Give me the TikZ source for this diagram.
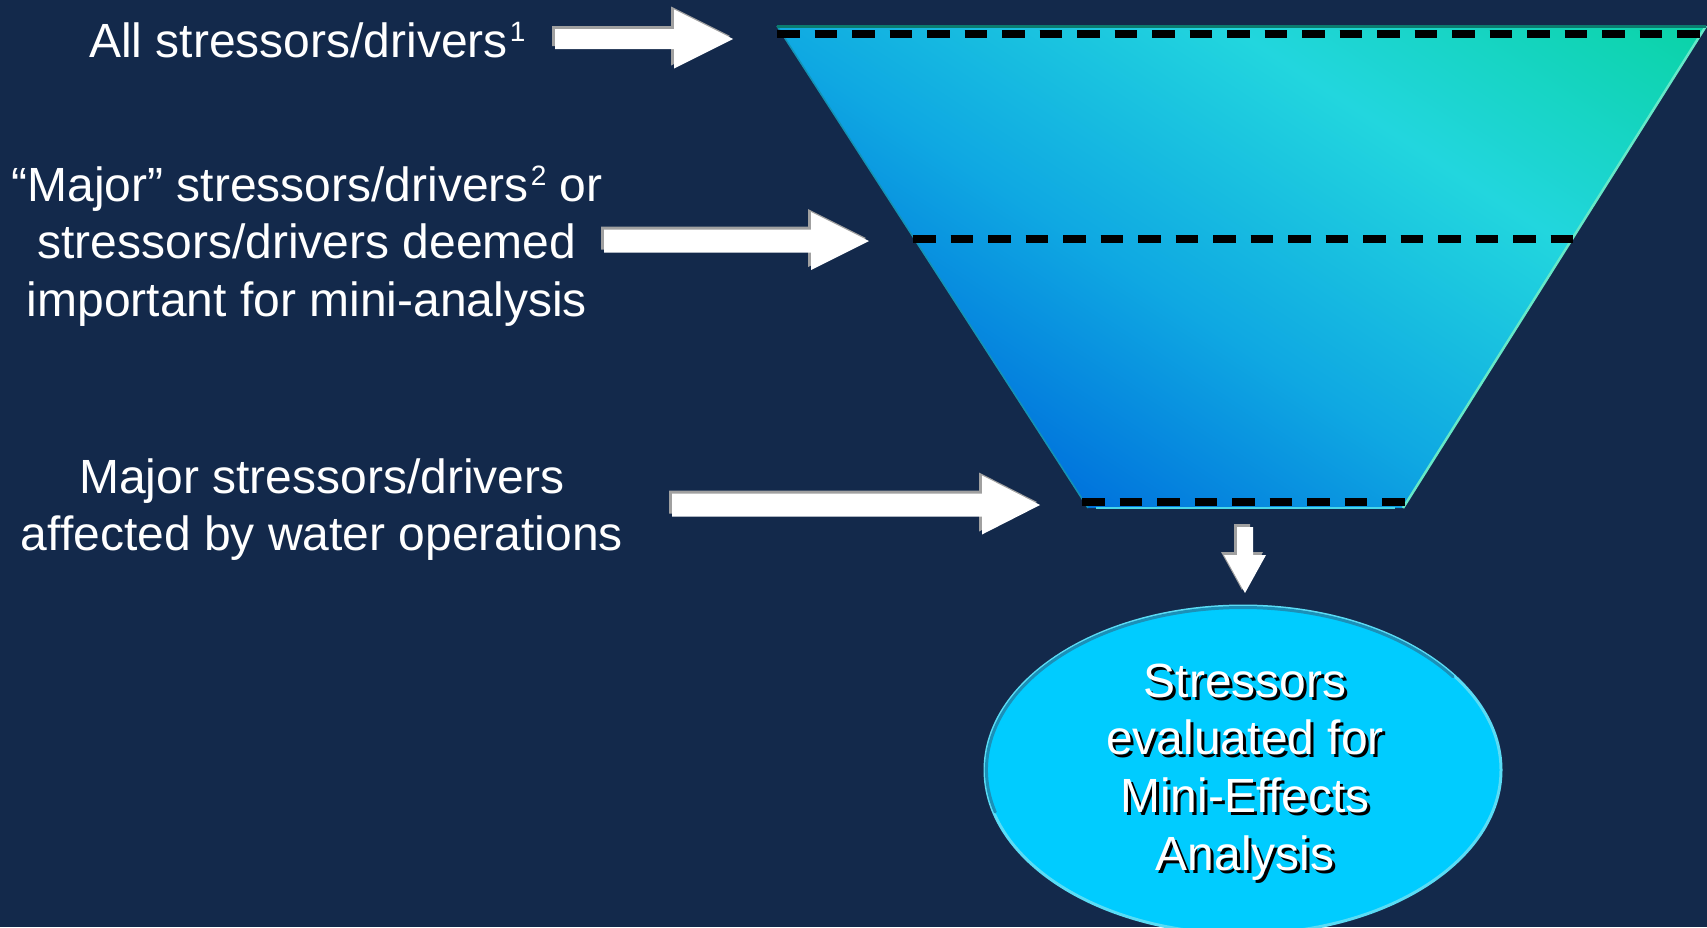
\documentclass[tikz,border=0pt]{standalone}
\usepackage{fontspec}
\setmainfont{Liberation Sans}
\usetikzlibrary{shapes.geometric}

\definecolor{navy}{HTML}{13294B}
\definecolor{fblue}{HTML}{0072DC}
\definecolor{fmid}{HTML}{0FA8E2}
\definecolor{fcyan}{HTML}{22D6DE}
\definecolor{fgreen}{HTML}{0AD3A6}
\definecolor{ftopc}{HTML}{0B7C6E}
\definecolor{fleftc}{HTML}{1493B4}
\definecolor{frightc}{HTML}{66E8C8}
\definecolor{fbottomc}{HTML}{48D6E8}
\definecolor{dashgray}{HTML}{666666}
\definecolor{arrowedge}{HTML}{A0A0A0}
\definecolor{goalfill}{HTML}{00CCFF}
\definecolor{goaldark}{HTML}{1B90B8}
\definecolor{goallight}{HTML}{5ADCF5}

% blue -> cyan -> green ramp across the funnel (25bp..75bp spans the path)
\pgfdeclarehorizontalshading{funnelshade}{100bp}{
  color(0bp)=(fblue); color(25bp)=(fblue); color(40bp)=(fmid);
  color(57.5bp)=(fcyan); color(75bp)=(fgreen); color(100bp)=(fgreen)}

% footnote mark set as a raised smaller digit
\newcommand{\fnmark}[1]{\kern2pt\raisebox{16pt}{\fontsize{28}{28}\selectfont #1}}
\newcommand{\goalwords}{\begin{tabular}[t]{@{}c@{}}Stressors\\evaluated for\\Mini-Effects\\Analysis\end{tabular}}

\tikzset{
  txt/.style={text=white, inner sep=0pt, font=\fontsize{48}{57.7}\selectfont},
  dashshadow/.style={draw=dashgray, line width=7.5pt, dash pattern=on 22.5pt off 15pt, shift={(2.5,2.5)}},
  dashline/.style={draw=black, line width=7.5pt, dash pattern=on 22.5pt off 15pt},
  % block arrow with its tip at the origin, pointing along +x
  % #1 total length, #2 half shaft width, #3 half head width, #4 head length
  pics/blockarrow/.style n args={4}{code={
    \path[pic actions] (-#1,-#2) -- (-#4,-#2) -- (-#4,-#3) -- (0,0)
      -- (-#4,#3) -- (-#4,#2) -- (-#1,#2) -- cycle;
  }},
}

\begin{document}
\begin{tikzpicture}[x=1pt, y=-1pt]
  \fill[navy] (0,0) rectangle (1707,927);
  \useasboundingbox (0,0) rectangle (1707,927);
  \clip (0,0) rectangle (1707,927);

  % funnel corners
  \coordinate (ftl) at (777,26);
  \coordinate (ftr) at (1706,26);
  \coordinate (fbr) at (1403,508);
  \coordinate (fbl) at (1088,508);

  \begin{scope}
    \clip (ftl) -- (ftr) -- (fbr) -- (fbl) -- cycle;
    \begin{scope}[transform canvas={shift={(1240,166)}, rotate=57}]
      \shade[shading=funnelshade] (-371,-800) rectangle (371,800);
    \end{scope}
  \end{scope}
  \draw[fleftc, line width=1.5pt] (ftl) -- (fbl);
  \draw[frightc, line width=2.5pt] (ftr) -- (fbr);
  \draw[ftopc, line width=3pt] (ftl) -- (ftr);
  \coordinate (fbl2) at (1096,508);
  \coordinate (fbr2) at (1395,508);
  \draw[fbottomc, line width=2.5pt] (fbl2) -- (fbr2);

  % dashed level lines
  \coordinate (d1l) at (777,34);  \coordinate (d1r) at (1700,34);
  \coordinate (d2l) at (913,239); \coordinate (d2r) at (1574,239);
  \coordinate (d3l) at (1082,502); \coordinate (d3r) at (1405,502);
  \foreach \a/\b in {d1l/d1r, d2l/d2r, d3l/d3r} {
    \path[dashshadow] (\a) -- (\b);
    \path[dashline] (\a) -- (\b);
  }

  % labels
  \node[txt, anchor=base west] (allsd) at (89,57) {All stressors/drivers\fnmark{1}};
  \node[txt, anchor=base] (majorsd) at (307,201)
    {\begin{tabular}[t]{@{}c@{}}“Major” stressors/drivers\fnmark{2} or\\stressors/drivers deemed\\important for mini-analysis\end{tabular}};
  \node[txt, anchor=base] (watersd) at (322,493)
    {\begin{tabular}[t]{@{}c@{}}Major stressors/drivers\\affected by water operations\end{tabular}};

  % block arrows into the funnel levels
  \coordinate (a1tip) at (733,39);
  \coordinate (a2tip) at (869,241);
  \coordinate (a3tip) at (1040,505);
  \coordinate (a4tip) at (1245,593);
  \pic[fill=arrowedge, shift={(-3,-3)}] at (a1tip) {blockarrow={178}{10}{29.5}{59}};
  \pic[fill=white] at (a1tip) {blockarrow={178}{10}{29.5}{59}};
  \pic[fill=arrowedge, shift={(-3,-3)}] at (a2tip) {blockarrow={265}{11.5}{29}{58}};
  \pic[fill=white] at (a2tip) {blockarrow={265}{11.5}{29}{58}};
  \pic[fill=arrowedge, shift={(-3,-3)}] at (a3tip) {blockarrow={368}{11.5}{29.5}{58}};
  \pic[fill=white] at (a3tip) {blockarrow={368}{11.5}{29.5}{58}};
  \pic[fill=arrowedge, shift={(-3,-3)}, rotate=-90] at (a4tip) {blockarrow={66}{8}{21}{38}};
  \pic[fill=white, rotate=-90] at (a4tip) {blockarrow={66}{8}{21}{38}};

  % outcome ellipse: light rim all round, darker rim along the upper left
  \node[ellipse, fill=goalfill, draw=goallight, line width=3pt,
        minimum width=516pt, minimum height=328pt, inner sep=0pt]
    (goal) at (1243,770) {};
  \begin{scope}[shift={(goal.center)}]
    \draw[goaldark, line width=3pt, line cap=round]
      (-195:256.5 and 162.5) arc[start angle=-195, end angle=-35, x radius=256.5, y radius=162.5];
  \end{scope}
  \node[txt, text=black, anchor=base] (goalshadow) at (1248,700) {\goalwords};
  \node[txt, anchor=base] (goaltext) at (1245,697) {\goalwords};
\end{tikzpicture}
\end{document}
